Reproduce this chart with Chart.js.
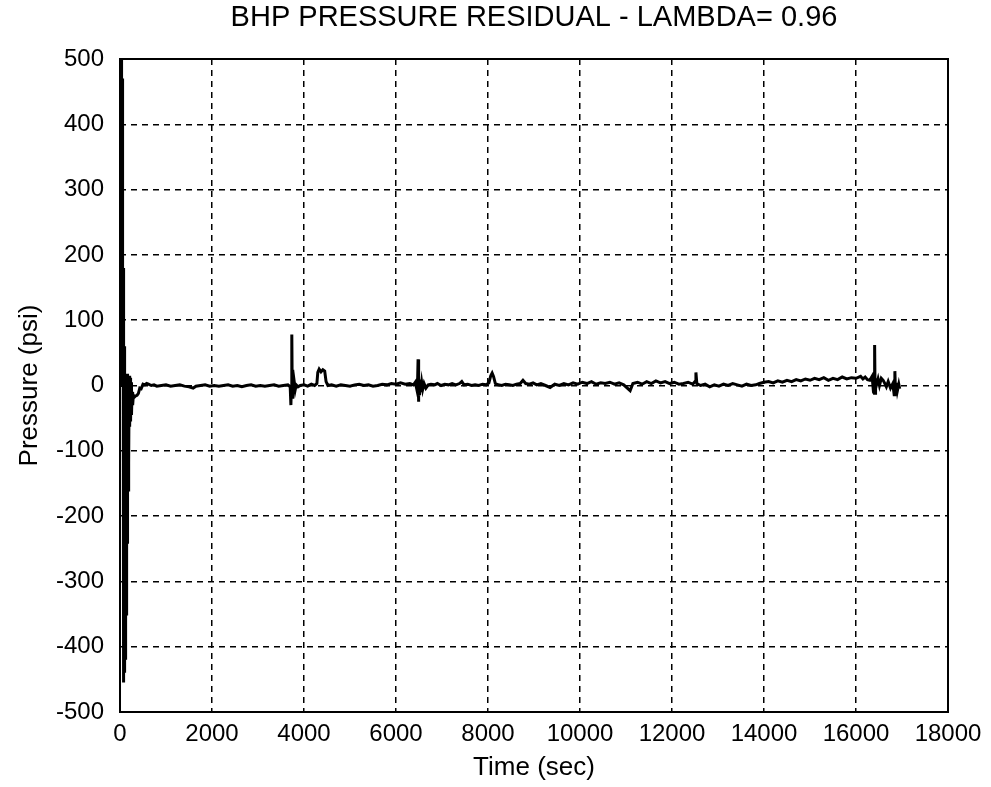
<!DOCTYPE html>
<html>
<head>
<meta charset="utf-8">
<title>BHP Pressure Residual</title>
<script src="https://cdn.jsdelivr.net/npm/chart.js@4"></script>
<style>
    html, body { margin: 0; padding: 0; background: #fff; }
    #wrap { width: 991px; height: 787px; }
</style>
</head>
<body>
<div id="wrap"><canvas id="residualChart" width="991" height="787"></canvas></div>
<script>
// Chart data
const chartTitle = 'BHP PRESSURE RESIDUAL - LAMBDA= 0.96';
const xTicks = [0, 2000, 4000, 6000, 8000, 10000, 12000, 14000, 16000, 18000];
const yTicks = [-500, -400, -300, -200, -100, 0, 100, 200, 300, 400, 500];

// start-up transient
const startTime = [0, 4, 8, 12, 16, 20, 24, 28, 32, 36, 40, 44, 48, 52, 56, 60, 64, 68, 72, 76,
    80, 84, 88, 92, 96, 100, 104, 108, 112, 116, 120, 124, 128, 132, 136, 140, 144, 148, 152, 156,
    160, 168, 176, 184, 192, 200, 210, 220, 230, 240, 250, 262, 275, 290, 310, 340, 370, 400, 430, 460];
const startPsi = [0, 500, 190, 500, 210, 490, 185, 500, 230, 480, 200, 470, 190, 420, 160, 300, 40, 180, -20, 90,
    -30, -455, 60, -430, -60, -440, 20, -400, -40, -420, 10, -380, -20, -350, 10, -300, -20, -250, 10, -240,
    -30, 18, -160, 10, -120, 15, -63, 12, -55, 5, -45, -10, -30, -15, -18, -16, -15, -12, -4, -5];

// settled residual, first half
const midTime = [500, 540, 580, 620, 680, 740, 800, 900, 1000, 1100, 1200, 1300, 1400, 1500, 1590, 1650, 1750, 1850, 1950,
    2050, 2150, 2250, 2350, 2450, 2550, 2650, 2750, 2850, 2950, 3050, 3150, 3250, 3350, 3450, 3550, 3650,
    3700, 3715, 3725, 3735, 3745, 3752, 3760, 3770, 3780, 3795, 3810, 3830, 3870, 3920,
    4000, 4080, 4160, 4230, 4280, 4300, 4330, 4370, 4410, 4450, 4480, 4520, 4600, 4700, 4800, 4900,
    5000, 5100, 5200, 5300, 5400, 5500, 5600, 5700, 5800, 5900, 6000, 6100, 6200, 6300, 6380,
    6420, 6450, 6470, 6480, 6488, 6496, 6510, 6525, 6540, 6560, 6580, 6610, 6650, 6700, 6760, 6840, 6900, 6980,
    7060, 7140, 7220, 7300, 7380, 7430, 7480, 7560, 7640, 7720, 7800, 7880, 7960,
    8020, 8060, 8090, 8120, 8160, 8220, 8300, 8380, 8460, 8540, 8620, 8700, 8760, 8820, 8900, 8980];
const midPsi = [2, 1, 3, 2, 0, 1, -1, 0, 1, -1, 0, 1, -1, -2, -4, -1, 0, 1, -1,
    0, -1, 0, 1, -1, 0, -2, 0, 1, -1, 0, -1, 0, 1, -1, 0, 1,
    -2, -30, -5, 78, -18, 24, -8, 3, -12, 2, -6, 1, -2, 0,
    1, -1, 2, 0, 3, 20, 25, 21, 24, 22, 6, 0, 1, -1, 1, 0,
    -1, 1, 2, 0, 1, -1, 0, 2, 1, 3, 2, 4, 2, 3, 1,
    5, -5, 8, 40, -25, 6, -15, 9, -10, 4, -6, 3, -4, 1, 2, 1, 3, 0,
    2, 1, 3, 1, 3, 6, 1, 2, 0, 1, 0, 2, 1,
    4, 15, 19, 14, 3, 1, 0, 2, 1, 0, 2, 3, 8, 3, 2, 4];

// settled residual, second half
const endTime = [9060, 9150, 9250, 9350, 9450, 9550, 9650, 9750, 9850, 9950,
    10050, 10150, 10250, 10350, 10450, 10550, 10650, 10750, 10850, 10950, 11090, 11150, 11250, 11350, 11450,
    11550, 11650, 11750, 11850, 11950, 12050, 12150, 12250, 12350, 12450, 12500, 12520, 12540, 12620, 12720,
    12820, 12920, 13020, 13120, 13220, 13320, 13420, 13520, 13620, 13720, 13820, 13900,
    14000, 14100, 14200, 14300, 14400, 14500, 14600, 14700, 14800, 14900, 15000, 15100, 15200, 15300,
    15400, 15500, 15600, 15700, 15800, 15900, 16000, 16100, 16150, 16200, 16250, 16300, 16350,
    16380, 16395, 16405, 16415, 16425, 16450, 16480, 16510, 16550, 16590, 16620, 16660, 16700, 16750,
    16800, 16830, 16845, 16860, 16880, 16900, 16930, 16950];
const endPsi = [1, 3, 0, -3, 2, 0, 3, 1, 4, 2,
    5, 3, 6, 2, 4, 3, 5, 2, 4, 1, -8, 3, 5, 2, 6,
    3, 7, 4, 6, 3, 5, 2, 3, 5, 2, 6, 20, 3, 0, 2,
    -2, 1, -1, 2, 0, 3, 1, -1, 2, 0, 1, 3,
    5, 6, 4, 7, 5, 8, 6, 9, 7, 10, 8, 11, 9, 12,
    8, 11, 9, 13, 10, 12, 11, 14, 10, 13, 9, 8, 14,
    -10, -12, 62, -12, 8, 2, 10, 0, 11, 8, 4, -2, 6, -4,
    3, -14, 22, -15, 4, -8, 2, -5];

const timeSec = [...startTime, ...midTime, ...endTime];
const residualPsi = [...startPsi, ...midPsi, ...endPsi];

const fontFamily = '"Liberation Sans", Arial, sans-serif';

// Solid black frame round the plot area
const framePlugin = {
    id: 'frame',
    afterDraw(chart) {
        const { ctx, chartArea } = chart;
        ctx.save();
        ctx.strokeStyle = '#000';
        ctx.lineWidth = 2;
        ctx.strokeRect(chartArea.left, chartArea.top, chartArea.right - chartArea.left, chartArea.bottom - chartArea.top);
        ctx.restore();
    }
};

const ctx = document.getElementById('residualChart').getContext('2d');
new Chart(ctx, {
    type: 'line',
    data: {
        datasets: [{
            data: timeSec.map((t, i) => ({ x: t, y: residualPsi[i] })),
            borderColor: '#000',
            borderWidth: 3,
            pointRadius: 0,
            tension: 0,
            fill: false
        }]
    },
    options: {
        responsive: false,
        animation: false,
        devicePixelRatio: 1,
        layout: { padding: { left: 0, right: 43, top: 0, bottom: 0 } },
        plugins: {
            legend: { display: false },
            tooltip: { enabled: false }
        },
        scales: {
            // top axis only carries the title, so it centres over the plot area
            top: {
                type: 'linear',
                position: 'top',
                min: xTicks[0],
                max: xTicks[xTicks.length - 1],
                afterFit: scale => { scale.height = 59; },
                ticks: { display: false },
                grid: { display: false },
                border: { display: false },
                title: {
                    display: true,
                    text: chartTitle,
                    color: '#000',
                    font: { family: fontFamily, size: 29 },
                    padding: { top: 1, bottom: 0 }
                }
            },
            x: {
                type: 'linear',
                min: xTicks[0],
                max: xTicks[xTicks.length - 1],
                afterBuildTicks: scale => { scale.ticks = xTicks.map(v => ({ value: v })); },
                afterFit: scale => { scale.height = 75; },
                ticks: {
                    color: '#000',
                    padding: 8,
                    maxRotation: 0,
                    font: { family: fontFamily, size: 24 },
                    callback: value => String(value)
                },
                grid: { color: '#000', lineWidth: 1.5, drawTicks: false },
                border: { display: false, dash: [6, 5] },
                title: {
                    display: true,
                    text: 'Time (sec)',
                    color: '#000',
                    font: { family: fontFamily, size: 26 },
                    padding: { top: 0, bottom: 4 }
                }
            },
            y: {
                min: yTicks[0],
                max: yTicks[yTicks.length - 1],
                afterBuildTicks: scale => { scale.ticks = yTicks.map(v => ({ value: v })); },
                afterFit: scale => { scale.width = 120; },
                ticks: {
                    color: '#000',
                    padding: 16,
                    font: { family: fontFamily, size: 24 },
                    callback: value => String(value)
                },
                grid: { color: '#000', lineWidth: 1.5, drawTicks: false },
                border: { display: false, dash: [6, 5] },
                title: {
                    display: true,
                    text: 'Pressure (psi)',
                    color: '#000',
                    font: { family: fontFamily, size: 26 },
                    padding: { top: 14, bottom: 0 }
                }
            }
        }
    },
    plugins: [framePlugin]
});
</script>
</body>
</html>
